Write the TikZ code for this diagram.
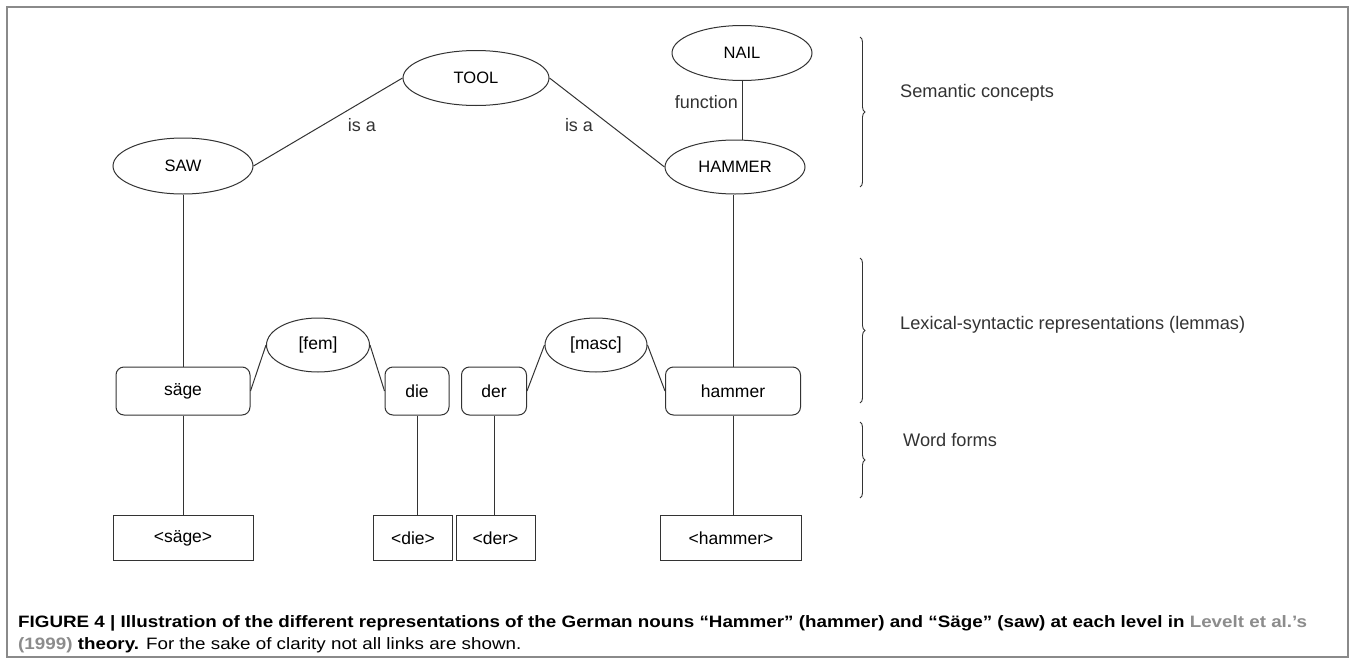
\documentclass[tikz,border=0pt]{standalone}
\usepackage{fontspec}
\setmainfont{Liberation Sans}
\usepackage{graphicx}
\usetikzlibrary{shapes.geometric,decorations.pathreplacing}
\definecolor{ln}{HTML}{333333}
\definecolor{frm}{HTML}{8A8A8A}
\definecolor{cite}{HTML}{8C8C8C}
\newsavebox\capboxA
\newsavebox\capboxB
\newlength\capwA
\begin{document}
\sbox\capboxA{\fontsize{16.5}{20}\selectfont\bfseries FIGURE 4 | Illustration of the different representations of the German nouns “Hammer” (hammer) and “Säge” (saw) at each level in \textcolor{cite}{Levelt et al.’s}}%
\sbox\capboxB{\fontsize{16.5}{20}\selectfont\textbf{\textcolor{cite}{(1999)} theory.} For the sake of clarity not all links are shown.}%
\setlength\capwA{\wd\capboxA}%
\pgfmathsetmacro\capfac{1289/\capwA}%
\begin{tikzpicture}[x=1pt,y=-1pt,
  conc/.style={ellipse, draw=ln, line width=1pt, inner sep=0pt, minimum width=140pt, minimum height=55pt, font=\fontsize{16.5}{18}\selectfont},
  feat/.style={ellipse, draw=ln, line width=1pt, inner sep=0pt, minimum width=103pt, minimum height=54pt, font=\fontsize{17.5}{19}\selectfont},
  lem/.style={rectangle, rounded corners=8pt, draw=ln, line width=1pt, minimum height=48pt, inner sep=0pt, font=\fontsize{17.5}{19}\selectfont},
  wf/.style={rectangle, draw=ln, line width=1pt, minimum height=45pt, inner sep=0pt, font=\fontsize{17.5}{19}\selectfont},
  link/.style={draw=ln, line width=1pt},
  lbl/.style={font=\fontsize{18}{20}\selectfont, inner sep=0pt, text=ln},
  brc/.style={decorate, decoration={brace, amplitude=5pt}, draw=ln, line width=0.9pt},
  side/.style={font=\fontsize{18.2}{20}\selectfont, inner sep=0pt, anchor=west, text=ln}
]
\useasboundingbox (0,0) rectangle (1355,664);
\fill[white] (0,0) rectangle (1355,664);
\draw[frm, line width=2pt] (7,7) rectangle (1348,657);

% semantic concepts
\node[conc, minimum width=146pt] (tool) at (476,78) {TOOL};
\node[conc] (nail) at (742,53) {NAIL};
\node[conc, minimum height=56pt] (saw) at (183,166) {SAW};
\node[conc, minimum height=54pt] (ham) at (735,167) {HAMMER};

% lemmas
\node[feat] (fem) at (318,345) {[fem]};
\node[feat, minimum width=102pt] (masc) at (596,345) {[masc]};
\node[lem, minimum width=134pt] (saege) at (183,391) {säge};
\node[lem, minimum width=64pt] (die) at (417,391) {die};
\node[lem, minimum width=65pt] (der) at (494,391) {der};
\node[lem, minimum width=135pt] (hammer) at (733,391) {hammer};

% word forms
\node[wf, minimum width=140pt] (saegef) at (183,538) {<säge>};
\node[wf, minimum width=79pt] (dief) at (413,538) {<die>};
\node[wf, minimum width=79pt] (derf) at (495.5,538) {<der>};
\node[wf, minimum width=141pt] (hammerf) at (731,538) {<hammer>};

% connectors
\draw[link] (saw.east) -- (tool.west);
\draw[link] (tool.east) -- (ham.west);
\draw[link] (nail.south) -- (nail.south |- ham.north);
\draw[link] (saw.south) -- (saege.north);
\draw[link] (hammer.north |- ham.south) -- (hammer.north);
\draw[link] (saege.east) -- (fem.west);
\draw[link] (fem.east) -- (die.west);
\draw[link] (der.east) -- (masc.west);
\draw[link] (masc.east) -- (hammer.west);
\draw[link] (saege.south) -- (saegef.north);
\draw[link] (die.south) -- (die.south |- dief.north);
\draw[link] (der.south) -- (der.south |- derf.north);
\draw[link] (hammer.south) -- (hammer.south |- hammerf.north);

% link labels
\node[lbl] (isa1) at (362,125) {is a};
\node[lbl] (isa2) at (579,125) {is a};
\node[lbl, anchor=east] (func) at (738,102) {function};

% braces
\coordinate (b1t) at (860,37);
\coordinate (b1b) at (860,187);
\coordinate (b2t) at (860,258);
\coordinate (b2b) at (860,403);
\coordinate (b3t) at (860,422);
\coordinate (b3b) at (860,498);
\draw[brc] (b1t) -- (b1b);
\draw[brc] (b2t) -- (b2b);
\draw[brc] (b3t) -- (b3b);
\node[side] (sem) at (900,93) {Semantic concepts};
\node[side] (lex) at (900,325) {Lexical-syntactic representations (lemmas)};
\node[side] (wfl) at (903,440) {Word forms};

% caption
\node[anchor=base west, inner sep=0pt] (cap1) at (18,627) {\scalebox{\capfac}[1]{\usebox\capboxA}};
\node[anchor=base west, inner sep=0pt] (cap2) at (18,649) {\scalebox{\capfac}[1]{\usebox\capboxB}};
\end{tikzpicture}
\end{document}
